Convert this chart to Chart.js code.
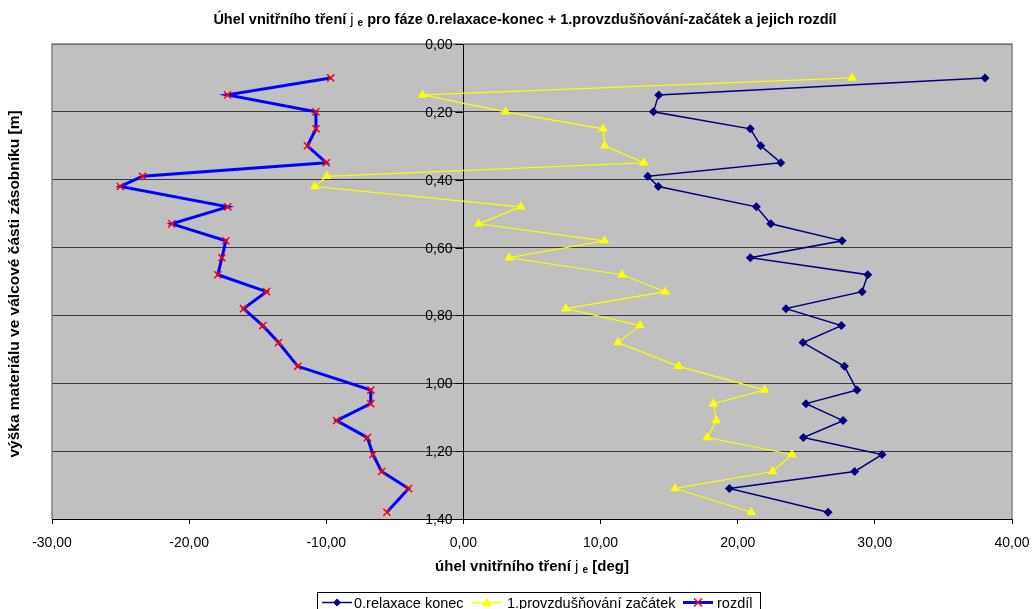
<!DOCTYPE html>
<html>
<head>
<meta charset="utf-8">
<script src="https://cdn.jsdelivr.net/npm/chart.js@4/dist/chart.umd.min.js"></script>
<style>
  html, body { margin: 0; padding: 0; background: #fff; }
  #wrap { width: 1032px; height: 609px; position: relative; }
</style>
</head>
<body>
<div id="wrap"><canvas id="c" width="1032" height="609"></canvas></div>
<script>
// Heights of the measurement points in the cylindrical part of the silo [m]
const heights = [0.10, 0.15, 0.20, 0.25, 0.30, 0.35, 0.39, 0.42, 0.48, 0.53, 0.58, 0.63, 0.68,
                 0.73, 0.78, 0.83, 0.88, 0.95, 1.02, 1.06, 1.11, 1.16, 1.21, 1.26, 1.31, 1.38];

// Angle of internal friction [deg]
const relaxaceKonec = [38.03, 14.24, 13.85, 20.92, 21.68, 23.14, 13.44, 14.21, 21.36, 22.41, 27.61, 20.92, 29.48,
                       29.07, 23.52, 27.56, 24.76, 27.78, 28.70, 24.98, 27.68, 24.79, 30.52, 28.53, 19.39, 26.59];
const provzdusnovaniZacatek = [28.35, -2.97, 3.08, 10.18, 10.30, 13.15, -9.97, -10.84, 4.18, 1.11, 10.28, 3.33, 11.57,
                               14.70, 7.46, 12.88, 11.27, 15.70, 21.97, 18.22, 18.44, 17.78, 23.96, 22.55, 15.43, 20.99];
const rozdil = [-9.68, -17.20, -10.76, -10.75, -11.38, -10.00, -23.40, -25.02, -17.18, -21.27, -17.32, -17.61, -17.91,
                -14.36, -16.03, -14.63, -13.48, -12.08, -6.75, -6.76, -9.25, -7.00, -6.60, -5.97, -4.00, -5.58];

const seriesNames = ['0.relaxace konec', '1.provzdušňování začátek', 'rozdíl'];
const xTicks = { min: -30, max: 40, step: 10 };
const yTicks = { min: 0, max: 1.4, step: 0.2 };

const FONT = '"Liberation Sans", Arial, sans-serif';
const fmt = v => Number(v).toFixed(2).replace('.', ',');
const pts = xs => xs.map((x, i) => ({ x: x, y: heights[i] }));

// Draw a line of text made of segments (bold/normal, subscript), centred at cx
function drawSegments(ctx, segs, cx, cy, rotate) {
  ctx.save();
  ctx.translate(cx, cy);
  if (rotate) ctx.rotate(-Math.PI / 2);
  ctx.textBaseline = 'middle';
  ctx.textAlign = 'left';
  ctx.fillStyle = '#000';
  let total = 0;
  const widths = segs.map(s => { ctx.font = s.font; const w = ctx.measureText(s.t).width; total += w; return w; });
  let x = -total / 2;
  segs.forEach((s, i) => {
    ctx.font = s.font;
    ctx.fillText(s.t, x, s.dy || 0);
    x += widths[i];
  });
  ctx.restore();
}

function marker(ctx, type, x, y) {
  ctx.save();
  if (type === 'diamond') {
    ctx.fillStyle = '#000080';
    ctx.beginPath();
    ctx.moveTo(x, y - 4); ctx.lineTo(x + 4, y); ctx.lineTo(x, y + 4); ctx.lineTo(x - 4, y); ctx.closePath();
    ctx.fill();
  } else if (type === 'triangle') {
    ctx.fillStyle = '#FFFF00';
    ctx.beginPath();
    ctx.moveTo(x, y - 5); ctx.lineTo(x + 5, y + 4); ctx.lineTo(x - 5, y + 4); ctx.closePath();
    ctx.fill();
  } else {
    ctx.strokeStyle = '#FF0000';
    ctx.lineWidth = 1.5;
    ctx.beginPath();
    ctx.moveTo(x - 4, y - 4); ctx.lineTo(x + 4, y + 4);
    ctx.moveTo(x + 4, y - 4); ctx.lineTo(x - 4, y + 4);
    ctx.stroke();
  }
  ctx.restore();
}

const decor = {
  id: 'decor',
  beforeDraw(chart) {
    const { ctx, chartArea: a } = chart;
    ctx.save();
    ctx.fillStyle = '#C0C0C0';
    ctx.fillRect(a.left, a.top, a.right - a.left, a.bottom - a.top);
    ctx.restore();
  },
  afterDraw(chart) {
    const { ctx, chartArea: a } = chart;
    const xs = chart.scales.x, ys = chart.scales.y;
    // plot frame
    ctx.save();
    ctx.strokeStyle = '#808080';
    ctx.lineWidth = 1.5;
    ctx.beginPath();
    ctx.moveTo(a.left, a.bottom); ctx.lineTo(a.left, a.top); ctx.lineTo(a.right, a.top); ctx.lineTo(a.right, a.bottom);
    ctx.stroke();
    ctx.restore();

    const B = s => 'bold ' + s + 'px ' + FONT;
    const N = s => s + 'px ' + FONT;

    // value-axis labels and tick marks on the vertical axis crossing x = 0
    const axisX = Math.round(xs.getPixelForValue(0)) + 0.5;
    ctx.save();
    ctx.strokeStyle = '#000';
    ctx.lineWidth = 1;
    ctx.fillStyle = '#000';
    ctx.font = N(14);
    ctx.textAlign = 'right';
    ctx.textBaseline = 'middle';
    ys.ticks.forEach(t => {
      const py = Math.round(ys.getPixelForValue(t.value)) + 0.5;
      ctx.beginPath(); ctx.moveTo(axisX - 8, py); ctx.lineTo(axisX, py); ctx.stroke();
      ctx.fillText(fmt(t.value), axisX - 11, py + 1);
    });
    ctx.restore();

    // chart title
    drawSegments(ctx, [
      { t: 'Úhel vnitřního tření ', font: B(14.5) },
      { t: 'j', font: N(14.5) },
      { t: ' ', font: N(14.5) },
      { t: 'e', font: B(10), dy: 3 },
      { t: ' pro fáze 0.relaxace-konec + 1.provzdušňování-začátek a jejich rozdíl', font: B(14.5) }
    ], 525, 20);

    // x axis title
    drawSegments(ctx, [
      { t: 'úhel vnitřního tření ', font: B(15) },
      { t: 'j', font: N(15) },
      { t: ' ', font: N(15) },
      { t: 'e', font: B(10), dy: 3 },
      { t: ' [deg]', font: B(15) }
    ], (a.left + a.right) / 2, 567);

    // y axis title
    drawSegments(ctx, [
      { t: 'výška materiálu ve válcové části zásobníku [m]', font: B(15.5) }
    ], 15, 284, true);

    // legend
    ctx.save();
    ctx.fillStyle = '#fff';
    ctx.fillRect(317, 592, 443, 20);
    ctx.strokeStyle = '#000';
    ctx.lineWidth = 1;
    ctx.strokeRect(317.5, 592.5, 443, 20);
    const ly = 602.5;
    const items = [
      { x: 322, color: '#000080', w: 1.5, m: 'diamond', tx: 354 },
      { x: 472, color: '#FFFF00', w: 1.5, m: 'triangle', tx: 507 },
      { x: 683, color: '#0000FF', w: 3, m: 'cross', tx: 717 }
    ];
    items.forEach((it, i) => {
      ctx.strokeStyle = it.color;
      ctx.lineWidth = it.w;
      ctx.beginPath(); ctx.moveTo(it.x, ly); ctx.lineTo(it.x + 30, ly); ctx.stroke();
      marker(ctx, it.m, it.x + 15, ly);
      ctx.fillStyle = '#000';
      ctx.font = N(14.5);
      ctx.textBaseline = 'middle';
      ctx.textAlign = 'left';
      ctx.fillText(seriesNames[i], it.tx, ly + 1);
    });
    ctx.restore();
  }
};

new Chart(document.getElementById('c'), {
  type: 'scatter',
  data: {
    datasets: [
      {
        label: seriesNames[0], data: pts(relaxaceKonec), showLine: true, order: 3,
        borderColor: '#000080', borderWidth: 1.5, backgroundColor: '#000080',
        pointStyle: 'rectRot', pointRadius: 4.5, pointBorderWidth: 0
      },
      {
        label: seriesNames[1], data: pts(provzdusnovaniZacatek), showLine: true, order: 2,
        borderColor: '#FFFF00', borderWidth: 1.2, backgroundColor: '#FFFF00',
        pointStyle: 'triangle', pointRadius: 5.5, pointBorderWidth: 0
      },
      {
        label: seriesNames[2], data: pts(rozdil), showLine: true, order: 1,
        borderColor: '#0000FF', borderWidth: 3,
        pointStyle: 'crossRot', pointRadius: 5, pointBorderWidth: 1.5,
        pointBorderColor: '#FF0000', pointBackgroundColor: '#FF0000'
      }
    ]
  },
  options: {
    responsive: false,
    animation: false,
    layout: { padding: { left: 52, right: 20, top: 44, bottom: 60 } },
    plugins: { legend: { display: false }, title: { display: false }, tooltip: { enabled: false } },
    scales: {
      x: {
        type: 'linear', position: 'bottom', min: xTicks.min, max: xTicks.max,
        ticks: { stepSize: xTicks.step, callback: fmt, color: '#000', font: { size: 14, family: FONT },
                 padding: 11, maxRotation: 0, autoSkip: false },
        grid: { drawOnChartArea: false, drawTicks: true, tickLength: 5, color: '#000' },
        border: { color: '#000', width: 1 },
        afterFit: s => { s.height = 30; s.paddingLeft = 0; s.paddingRight = 0; }
      },
      y: {
        type: 'linear', position: { x: 0 }, reverse: true, min: yTicks.min, max: yTicks.max,
        ticks: { stepSize: yTicks.step, display: false },
        grid: { color: '#3a3a3a', lineWidth: 1, drawTicks: false },
        border: { color: '#000', width: 1 },
        afterFit: s => { s.paddingTop = 0; s.paddingBottom = 0; }
      }
    }
  },
  plugins: [decor]
});
</script>
</body>
</html>
